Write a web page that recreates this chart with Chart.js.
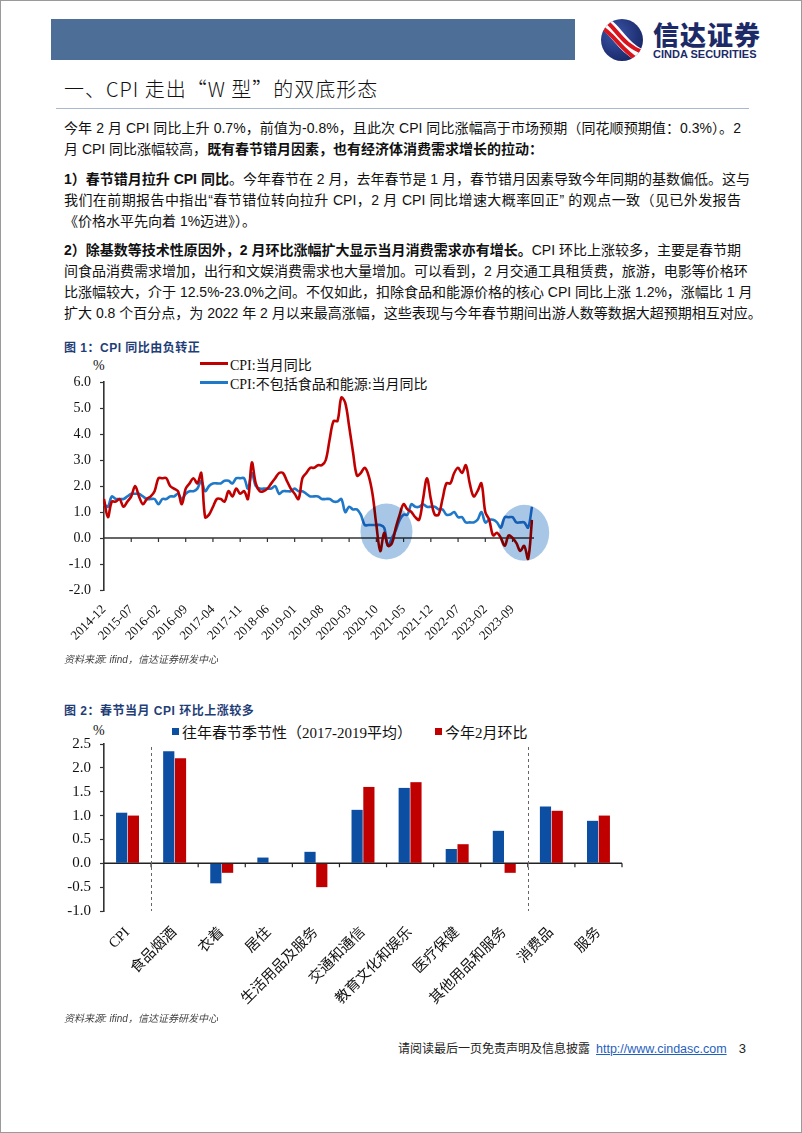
<!DOCTYPE html>
<html>
<head>
<meta charset="utf-8">
<script src="https://cdn.jsdelivr.net/npm/chart.js"></script>
<style>
  body { margin: 0; background: #fff; }
  #page { position: relative; width: 802px; height: 1133px; box-sizing: border-box; border: 1px solid #9a9a9a; overflow: hidden;
          font-family: "Liberation Sans", "Noto Sans CJK SC", sans-serif; color: #111; }
  .abs { position: absolute; }
  .bar { left: 50px; top: 18px; width: 524px; height: 41px; background: #4c6e97; }
  .h1 { left: 63px; top: 73px; font-size: 20px; font-family: "Noto Sans CJK SC", sans-serif; font-weight: 300; letter-spacing: 1px; color: #111; }
  .rule { left: 55px; top: 107px; width: 693px; height: 0; border-top: 1.5px solid #a9b8cc; }
  .txt { left: 63px; top: 117px; width: 677px; font-size: 14px; line-height: 21px; }
  .txt .para { margin: 0 0 8.5px 0; }
  .ln { text-align: justify; text-align-last: justify; white-space: nowrap; height: 21px; }
  .ln.last { text-align-last: left; }
  .txt b { font-weight: 700; }
  .cap { left: 63px; font-size: 12px; font-weight: 700; color: #1f3e78; letter-spacing: 0.5px; }
  .src { left: 63px; font-size: 10px; font-style: italic; color: #444; }
  .pct { font-family: "Liberation Serif", serif; font-size: 14px; color: #111; }
  .lg { font-family: "Liberation Serif", "Noto Sans CJK SC", serif; font-size: 14px; color: #111; white-space: nowrap; }
  .foot { top: 1038px; left: 397px; font-size: 12px; color: #222; white-space: nowrap; }
  .foot a { color: #1f5fbf; text-decoration: underline; margin-left: 6px; font-family: "Liberation Sans", sans-serif; font-size: 12.5px; }
  .foot .pg { margin-left: 12px; font-family: "Liberation Sans", sans-serif; font-size: 13px; }
</style>
</head>
<body>
<div id="page">
  <div class="abs bar"></div>
  <svg class="abs" style="left:598px;top:16px" width="46" height="46" viewBox="0 0 46 46">
    <defs><clipPath id="cl"><circle cx="23" cy="23" r="21"/></clipPath>
      <radialGradient id="gd" cx="0.35" cy="0.35" r="0.8"><stop offset="0" stop-color="#3a55a8"/><stop offset="1" stop-color="#14215e"/></radialGradient></defs>
    <circle cx="23" cy="23" r="21" fill="url(#gd)"/>
    <g clip-path="url(#cl)">
      <path d="M2 4 C16 10, 22 30, 44 40" stroke="#fff" stroke-width="13" fill="none"/>
      <path d="M2 1 C17 8, 21 28, 46 36" stroke="#d8141c" stroke-width="4" fill="none"/>
      <path d="M0 9 C14 15, 22 34, 42 45" stroke="#d8141c" stroke-width="4" fill="none"/>
    </g>
  </svg>
  <div class="abs" style="left:652px;top:18px;font-family:'Noto Sans CJK SC',sans-serif;font-weight:900;font-size:26px;color:#1c2a68;letter-spacing:1px;line-height:30px">信达证券</div>
  <div class="abs" style="left:652px;top:48px;font-family:'Liberation Sans',sans-serif;font-weight:700;font-size:11px;color:#1c2a68;line-height:11px">CINDA SECURITIES</div>

  <div class="abs h1">一、CPI 走出“W 型”的双底形态</div>
  <div class="abs rule"></div>

  <div class="abs txt">
    <div class="para">
      <div class="ln">今年 2 月 CPI 同比上升 0.7%，前值为-0.8%，且此次 CPI 同比涨幅高于市场预期（同花顺预期值：0.3%）。2</div>
      <div class="ln last">月 CPI 同比涨幅较高，<b>既有春节错月因素，也有经济体消费需求增长的拉动：</b></div>
    </div>
    <div class="para">
      <div class="ln"><b>1）春节错月拉升 CPI 同比</b>。今年春节在 2 月，去年春节是 1 月，春节错月因素导致今年同期的基数偏低。这与</div>
      <div class="ln">我们在前期报告中指出“春节错位转向拉升 CPI，2 月 CPI 同比增速大概率回正” 的观点一致（见已外发报告</div>
      <div class="ln last">《价格水平先向着 1%迈进》）。</div>
    </div>
    <div class="para">
      <div class="ln"><b>2）除基数等技术性原因外，2 月环比涨幅扩大显示当月消费需求亦有增长。</b>CPI 环比上涨较多，主要是春节期</div>
      <div class="ln">间食品消费需求增加，出行和文娱消费需求也大量增加。可以看到，2 月交通工具租赁费，旅游，电影等价格环</div>
      <div class="ln">比涨幅较大，介于 12.5%-23.0%之间。不仅如此，扣除食品和能源价格的核心 CPI 同比上涨 1.2%，涨幅比 1 月</div>
      <div class="ln last">扩大 0.8 个百分点，为 2022 年 2 月以来最高涨幅，这些表现与今年春节期间出游人数等数据大超预期相互对应。</div>
    </div>
  </div>

  <!-- 图1 -->
  <div class="abs cap" style="top:337px">图 1：CPI 同比由负转正</div>
  <div class="abs pct" style="left:92px;top:357px">%</div>
  <div class="abs" style="left:199px;top:361px;width:28px;height:3px;background:#c00000"></div>
  <div class="abs lg" style="left:229px;top:353px">CPI:当月同比</div>
  <div class="abs" style="left:199px;top:380px;width:28px;height:3px;background:#1f78c8"></div>
  <div class="abs lg" style="left:229px;top:372px">CPI:不包括食品和能源:当月同比</div>
  <canvas id="c1" class="abs" style="left:40px;top:340px" width="510" height="315"></canvas>
  <div class="abs src" style="top:650px">资料来源: ifind，信达证券研发中心</div>

  <!-- 图2 -->
  <div class="abs cap" style="top:700px">图 2：春节当月 CPI 环比上涨较多</div>
  <div class="abs pct" style="left:92px;top:722px">%</div>
  <div class="abs" style="left:171px;top:727px;width:7px;height:7px;background:#0b4ea2"></div>
  <div class="abs lg" style="left:181px;top:720px;font-size:15px">往年春节季节性（2017-2019平均）</div>
  <div class="abs" style="left:434px;top:727px;width:7px;height:7px;background:#c00000"></div>
  <div class="abs lg" style="left:444px;top:720px;font-size:15px">今年2月环比</div>
  <canvas id="c2" class="abs" style="left:40px;top:700px" width="600" height="310"></canvas>
  <div class="abs src" style="top:1009px">资料来源: ifind，信达证券研发中心</div>

  <div class="abs foot">请阅读最后一页免责声明及信息披露<a>http://www.cindasc.com</a><span class="pg">3</span></div>
</div>

<script>
// ---- 图1 数据 ----
const months = [];
for (let k = 0; k < 111; k++) {
  const t = 2014 * 12 + 11 + k;
  months.push(Math.floor(t / 12) + "-" + String((t % 12) + 1).padStart(2, "0"));
}
const tickLabels1 = ["2014-12", "2015-07", "2016-02", "2016-09", "2017-04", "2017-11", "2018-06", "2019-01",
  "2019-08", "2020-03", "2020-10", "2021-05", "2021-12", "2022-07", "2023-02", "2023-09"];

// CPI:当月同比 (2014-12 ... 2024-02)
const cpiYoY = [
  1.5,
  0.8, 1.4, 1.4, 1.5, 1.2, 1.4, 1.6, 2.0, 1.6, 1.3, 1.5, 1.6,
  1.8, 2.3, 2.3, 2.3, 2.0, 1.9, 1.8, 1.3, 1.9, 2.1, 2.3, 2.1,
  2.5, 0.8, 0.9, 1.2, 1.5, 1.5, 1.4, 1.8, 1.6, 1.9, 1.7, 1.8,
  1.5, 2.9, 2.1, 1.8, 1.8, 1.9, 2.1, 2.3, 2.5, 2.5, 2.2, 1.9,
  1.7, 1.5, 2.3, 2.5, 2.7, 2.7, 2.8, 2.8, 3.0, 3.8, 4.5, 4.5,
  5.4, 5.2, 4.3, 3.3, 2.4, 2.5, 2.7, 2.4, 1.7, 0.5, -0.5, 0.2,
  -0.3, -0.2, 0.4, 0.9, 1.3, 1.1, 1.0, 0.8, 0.7, 1.5, 2.3, 1.5,
  0.9, 0.9, 1.5, 2.1, 2.1, 2.5, 2.7, 2.5, 2.8, 2.1, 1.6, 1.8,
  2.1, 1.0, 0.7, 0.1, 0.2, 0.0, -0.3, 0.1, 0.0, -0.2, -0.5, -0.3,
  -0.8, 0.7
];
// CPI:不包括食品和能源:当月同比
const coreYoY = [
  1.3,
  1.2, 1.6, 1.5, 1.5, 1.5, 1.6, 1.7, 1.7, 1.7, 1.6, 1.5, 1.5,
  1.5, 1.3, 1.5, 1.5, 1.6, 1.6, 1.7, 1.5, 1.7, 1.8, 1.8, 1.9,
  2.2, 1.8, 2.0, 2.1, 2.1, 2.1, 2.2, 2.2, 2.1, 2.3, 2.3, 2.3,
  1.9, 2.5, 2.0, 1.9, 1.9, 1.9, 1.9, 2.0, 1.7, 1.8, 1.8, 1.8,
  1.9, 1.8, 1.8, 1.7, 1.6, 1.6, 1.6, 1.5, 1.5, 1.5, 1.4, 1.4,
  1.5, 1.0, 1.2, 1.1, 1.1, 0.9, 0.5, 0.5, 0.5, 0.5, 0.5, 0.4,
  -0.3, 0.0, 0.3, 0.7, 0.9, 0.9, 1.3, 1.2, 1.2, 1.3, 1.2, 1.2,
  1.2, 1.1, 1.1, 0.9, 0.9, 1.0, 0.8, 0.8, 0.6, 0.6, 0.6, 0.7,
  1.0, 0.6, 0.7, 0.7, 0.6, 0.4, 0.8, 0.8, 0.8, 0.6, 0.6, 0.6,
  0.4, 1.2
];
// 两个 "W 型" 底部的标注圆 (月份下标, 数值)
const highlights = [
  { at: 72.6, v: 0.25, rx: 26, ry: 28 },
  { at: 108, v: 0.2, rx: 25, ry: 28 }
];

// ---- 图2 数据 ----
const categories2 = ["CPI", "食品烟酒", "衣着", "居住", "生活用品及服务", "交通和通信", "教育文化和娱乐",
  "医疗保健", "其他用品和服务", "消费品", "服务"];
const seasonalAvg = [1.06, 2.35, -0.42, 0.12, 0.24, 1.12, 1.58, 0.30, 0.68, 1.19, 0.89];
const febMoM = [1.0, 2.2, -0.2, 0.0, -0.5, 1.6, 1.7, 0.4, -0.2, 1.1, 1.0];
const dividersAfter = ["CPI", "其他用品和服务"];

const serif = "'Liberation Serif', 'Noto Sans CJK SC', serif";
Chart.defaults.font.family = serif;
Chart.defaults.color = "#111";

const fixY = (w) => (scale) => { scale.width = w; };
const fixX = (h) => (scale) => { scale.height = h; };

const lineAxes = {
  id: "lineAxes",
  beforeDatasetsDraw(chart) {
    const { ctx, chartArea, scales: { x, y } } = chart;
    const y0 = y.getPixelForValue(0);
    ctx.save();
    ctx.strokeStyle = "#333";
    ctx.lineWidth = 1.6;
    ctx.beginPath();
    ctx.moveTo(chartArea.left, y0);
    ctx.lineTo(chartArea.right + 2, y0);
    ctx.stroke();
    ctx.lineWidth = 1.2;
    ctx.beginPath();
    months.forEach((m, i) => {
      if (i > 0 && tickLabels1.includes(m)) {
        const px = x.getPixelForValue(i);
        ctx.moveTo(px, y0);
        ctx.lineTo(px, y0 + 4);
      }
    });
    ctx.stroke();
    ctx.restore();
  },
  afterDatasetsDraw(chart) {
    const { ctx, scales: { x, y } } = chart;
    ctx.save();
    ctx.globalCompositeOperation = "multiply";
    ctx.fillStyle = "rgb(168,199,231)";
    highlights.forEach((h) => {
      ctx.beginPath();
      ctx.ellipse(x.getPixelForValue(h.at), y.getPixelForValue(h.v), h.rx, h.ry, 0, 0, Math.PI * 2);
      ctx.fill();
    });
    ctx.restore();
  }
};

new Chart(document.getElementById("c1"), {
  type: "line",
  data: {
    labels: months,
    datasets: [
      { label: "CPI:当月同比", data: cpiYoY, borderColor: "#c00000", borderWidth: 2.6, pointRadius: 0, tension: 0.35 },
      { label: "CPI:不包括食品和能源:当月同比", data: coreYoY, borderColor: "#1f78c8", borderWidth: 2.6, pointRadius: 0, tension: 0.35 }
    ]
  },
  options: {
    responsive: false,
    animation: false,
    layout: { padding: { top: 41, right: 19, left: 0, bottom: 0 } },
    plugins: { legend: { display: false }, tooltip: { enabled: false } },
    scales: {
      x: {
        grid: { display: false },
        border: { display: false },
        afterFit: fixX(66),
        ticks: {
          autoSkip: false, minRotation: 45, maxRotation: 45, padding: 4,
          font: { size: 13 }, color: "#111",
          callback: (v, i) => (tickLabels1.includes(months[i]) ? months[i] : null)
        }
      },
      y: {
        min: -2, max: 6,
        afterFit: fixY(63),
        border: { color: "#333", width: 1.6 },
        grid: { drawOnChartArea: false, tickLength: 4, tickColor: "#333", tickWidth: 1.2 },
        ticks: { stepSize: 1, padding: 9, font: { size: 14 }, color: "#111", callback: (v) => v.toFixed(1) }
      }
    }
  },
  plugins: [lineAxes]
});

const barAxes = {
  id: "barAxes",
  beforeDatasetsDraw(chart) {
    const { ctx, chartArea, scales: { x, y } } = chart;
    const y0 = y.getPixelForValue(0);
    const edge = (i) => (i >= categories2.length - 1
      ? chartArea.right
      : (x.getPixelForValue(i) + x.getPixelForValue(i + 1)) / 2);
    ctx.save();
    ctx.strokeStyle = "#222";
    ctx.lineWidth = 1.6;
    ctx.beginPath();
    ctx.moveTo(chartArea.left, y0);
    ctx.lineTo(chartArea.right, y0);
    ctx.stroke();
    ctx.lineWidth = 1.2;
    ctx.beginPath();
    categories2.forEach((c, i) => {
      const px = edge(i);
      ctx.moveTo(px, y0);
      ctx.lineTo(px, y0 + 4);
    });
    ctx.stroke();
    ctx.strokeStyle = "#666";
    ctx.lineWidth = 1;
    ctx.setLineDash([3, 3]);
    ctx.beginPath();
    dividersAfter.forEach((c) => {
      const px = Math.round(edge(categories2.indexOf(c))) + 0.5;
      ctx.moveTo(px, chartArea.top + 3);
      ctx.lineTo(px, chartArea.bottom);
    });
    ctx.stroke();
    ctx.restore();
  }
};

new Chart(document.getElementById("c2"), {
  type: "bar",
  data: {
    labels: categories2,
    datasets: [
      { label: "往年春节季节性（2017-2019平均）", data: seasonalAvg, backgroundColor: "#0b4ea2", categoryPercentage: 0.5, barPercentage: 0.95 },
      { label: "今年2月环比", data: febMoM, backgroundColor: "#c00000", categoryPercentage: 0.5, barPercentage: 0.95 }
    ]
  },
  options: {
    responsive: false,
    animation: false,
    layout: { padding: { top: 43, right: 19, left: 0, bottom: 0 } },
    plugins: { legend: { display: false }, tooltip: { enabled: false } },
    scales: {
      x: {
        grid: { display: false },
        border: { display: false },
        afterFit: fixX(100),
        ticks: { autoSkip: false, minRotation: 45, maxRotation: 45, padding: 5, font: { size: 14.5 }, color: "#111" }
      },
      y: {
        min: -1, max: 2.5,
        afterFit: fixY(63),
        border: { color: "#333", width: 1.6 },
        grid: { drawOnChartArea: false, tickLength: 4, tickColor: "#333", tickWidth: 1.2 },
        ticks: { stepSize: 0.5, padding: 9, font: { size: 15 }, color: "#111", callback: (v) => v.toFixed(1) }
      }
    }
  },
  plugins: [barAxes]
});
</script>
</body>
</html>
